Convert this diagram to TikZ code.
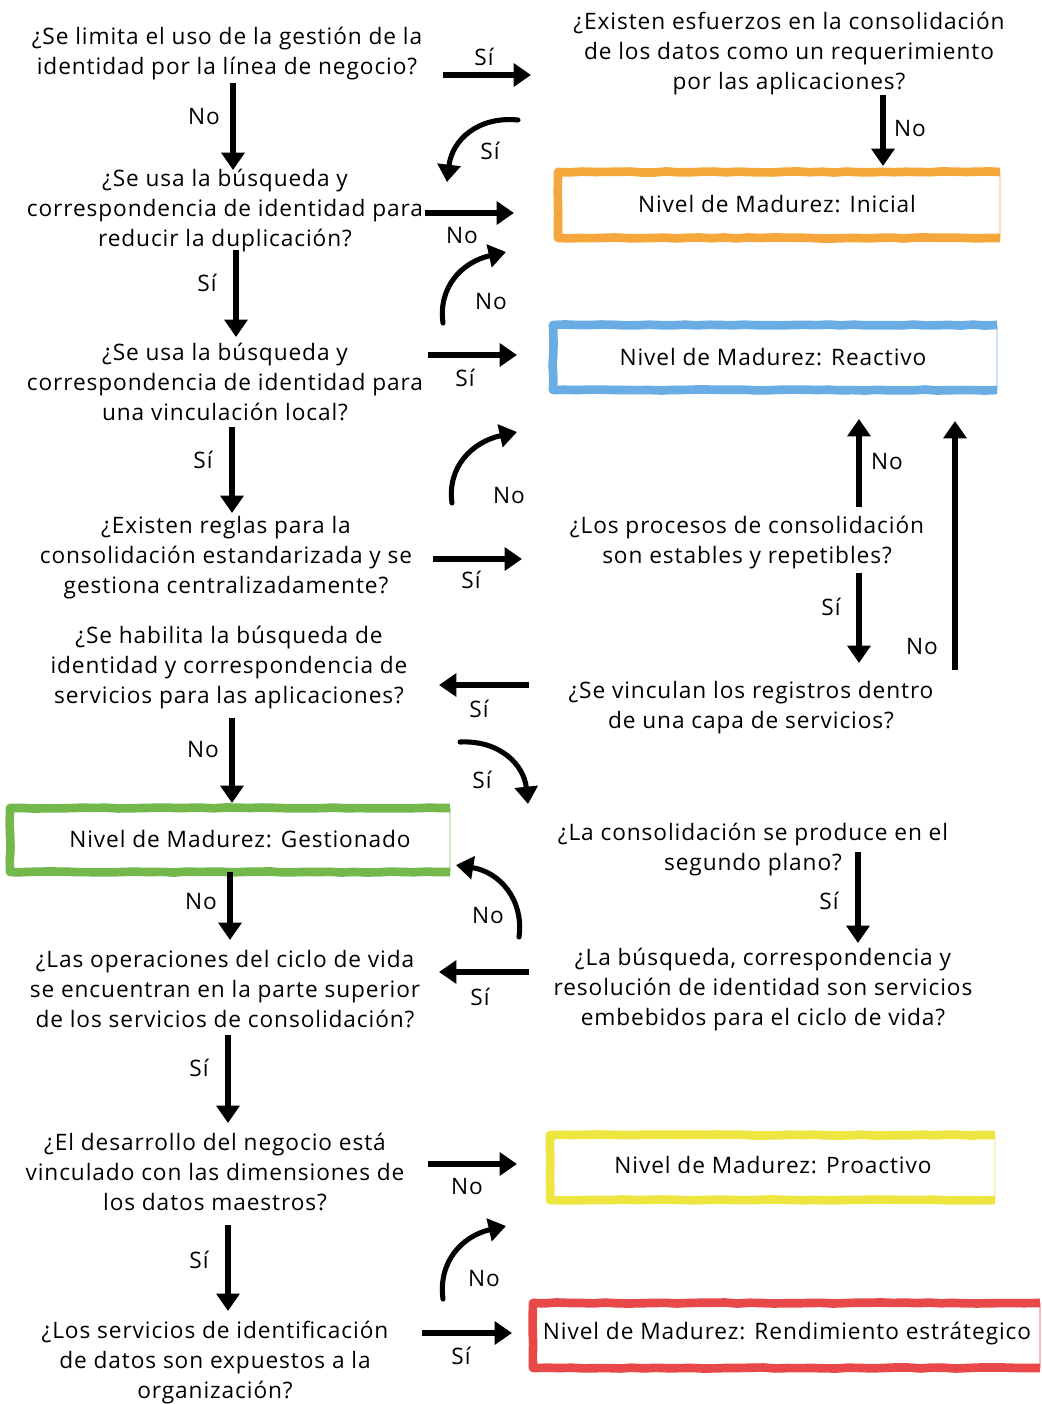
\documentclass[tikz,border=0pt]{standalone}
\usepackage{fontspec}
\setmainfont[LetterSpace=4]{Open Sans}
\usetikzlibrary{arrows.meta,decorations.pathmorphing}
\definecolor{cOrange}{HTML}{F5A73B}
\definecolor{cBlue}{HTML}{6AADE4}
\definecolor{cGreen}{HTML}{72B84C}
\definecolor{cYellow}{HTML}{EDE540}
\definecolor{cRed}{HTML}{E84848}
\begin{document}
\begin{tikzpicture}[x=0.75pt,y=-0.75pt,
  q/.style={align=center, font=\fontsize{17}{22.5}\selectfont, inner sep=0pt, yshift=-1.8pt},
  lbl/.style={font=\fontsize{17}{18}\selectfont, inner sep=0pt},
  boxtext/.style={font=\fontsize{17}{18}\selectfont, inner sep=0pt},
  arr/.style={line width=3.8pt, -{Triangle[length=13pt,width=17pt]}},
  brush/.style={line width=6.5pt, line join=round, decorate, decoration={random steps, segment length=9pt, amplitude=0.4pt}},
  faint/.style={line width=1pt, opacity=0.35}
]
\useasboundingbox (0,0) rectangle (1042,1404);

% ---------- left column questions ----------
\node[q] (q1) at (227,51) {¿Se limita el uso de la gestión de la\\identidad por la línea de negocio?};
\node[q] (q2) at (225,208) {¿Se usa la búsqueda y\\correspondencia de identidad para\\reducir la duplicación?};
\node[q] (q3) at (225,380) {¿Se usa la búsqueda y\\correspondencia de identidad para\\una vinculación local?};
\node[q] (q4) at (226,555) {¿Existen reglas para la\\consolidación estandarizada y se\\gestiona centralizadamente?};
\node[q] (q5) at (229,665) {¿Se habilita la búsqueda de\\identidad y correspondencia de\\servicios para las aplicaciones?};
\node[q] (q6) at (225,987) {¿Las operaciones del ciclo de vida\\se encuentran en la parte superior\\de los servicios de consolidación?};
\node[q] (q7) at (215,1170) {¿El desarrollo del negocio está\\vinculado con las dimensiones de\\los datos maestros?};
\node[q] (q8) at (215,1360) {¿Los servicios de identificación\\de datos son expuestos a la\\organización?};

% ---------- right column questions ----------
\node[q] (r1) at (789,51) {¿Existen esfuerzos en la consolidación\\de los datos como un requerimiento\\por las aplicaciones?};
\node[q] (r2) at (747,540) {¿Los procesos de consolidación\\son estables y repetibles?};
\node[q] (r3) at (751,705) {¿Se vinculan los registros dentro\\de una capa de servicios?};
\node[q] (r4) at (753,847) {¿La consolidación se produce en el\\segundo plano?};
\node[q] (r5) at (763,987) {¿La búsqueda, correspondencia y\\resolución de identidad son servicios\\embebidos para el ciclo de vida?};

% ---------- maturity level boxes ----------
\path (558,172) coordinate (iniNW) (1000,238) coordinate (iniSE);
\node[boxtext] (inicial) at (777,204) {Nivel de Madurez: Inicial};
\draw[brush, cOrange] (iniSE) -- (iniSE -| iniNW) -- (iniNW) -- (iniNW -| iniSE);
\draw[faint, cOrange] (iniNW -| iniSE) -- (iniSE);

\path (553,325) coordinate (reaNW) (997,390) coordinate (reaSE);
\node[boxtext] (reactivo) at (773,357) {Nivel de Madurez: Reactivo};
\draw[brush, cBlue] (reaSE) -- (reaSE -| reaNW) -- (reaNW) -- (reaNW -| reaSE);
\draw[faint, cBlue] (reaNW -| reaSE) -- (reaSE);

\path (10,808) coordinate (gesNW) (450,872) coordinate (gesSE);
\node[boxtext] (gestionado) at (240,839) {Nivel de Madurez: Gestionado};
\draw[brush, cGreen] (gesSE) -- (gesSE -| gesNW) -- (gesNW) -- (gesNW -| gesSE);
\draw[faint, cGreen] (gesNW -| gesSE) -- (gesSE);

\path (550,1135) coordinate (proNW) (995,1200) coordinate (proSE);
\node[boxtext] (proactivo) at (773,1165) {Nivel de Madurez: Proactivo};
\draw[brush, cYellow] (proSE) -- (proSE -| proNW) -- (proNW) -- (proNW -| proSE);
\draw[faint, cYellow] (proNW -| proSE) -- (proSE);

\path (533,1303) coordinate (renNW) (1040,1368) coordinate (renSE);
\node[boxtext] (rendimiento) at (787,1334) {Nivel de Madurez: Rendimiento estrátegico};
\draw[brush, cRed] (renSE) -- (renSE -| renNW) -- (renNW) -- (renNW -| renSE);
\draw[faint, cRed] (renNW -| renSE) -- (renSE);

% ---------- connector end points ----------
\path
 (443,75) coordinate (a1s) (531,75) coordinate (a1e)
 (233,83) coordinate (d1s) (233,170) coordinate (d1e)
 (883,95) coordinate (d2s) (883,166) coordinate (d2e)
 (236,250) coordinate (d3s) (236,337) coordinate (d3e)
 (232,427) coordinate (d4s) (232,513) coordinate (d4e)
 (232,718) coordinate (d5s) (232,803) coordinate (d5e)
 (230,872) coordinate (d6s) (230,940) coordinate (d6e)
 (228,1035) coordinate (d7s) (228,1123) coordinate (d7e)
 (228,1225) coordinate (d8s) (228,1311) coordinate (d8e)
 (859,507) coordinate (u1s) (859,419) coordinate (u1e)
 (859,573) coordinate (d9s) (859,663) coordinate (d9e)
 (955,670) coordinate (u2s) (955,421) coordinate (u2e)
 (858,852) coordinate (d10s) (858,943) coordinate (d10e)
 (425,213) coordinate (a3s) (514,213) coordinate (a3e)
 (428,355) coordinate (a5s) (517,355) coordinate (a5e)
 (433,559) coordinate (a7s) (522,559) coordinate (a7e)
 (529,685) coordinate (a8s) (439,685) coordinate (a8e)
 (529,972) coordinate (a11s) (439,972) coordinate (a11e)
 (428,1164) coordinate (a12s) (517,1164) coordinate (a12e)
 (422,1333) coordinate (a14s) (512,1333) coordinate (a14e)
 (518,120) coordinate (c2s) (447,182) coordinate (c2e)
 (443,323) coordinate (c4s) (506,252) coordinate (c4e)
 (452,503) coordinate (c6s) (517,432) coordinate (c6e)
 (443,1299) coordinate (c13s) (506,1226) coordinate (c13e)
 (460,742) coordinate (c9s) (528,804) coordinate (c9e)
 (519,937) coordinate (c10s) (456,865) coordinate (c10e);

% ---------- straight connectors ----------
\draw[arr] (a1s) -- (a1e);
\draw[arr] (d1s) -- (d1e);
\draw[arr] (d2s) -- (d2e);
\draw[arr] (d3s) -- (d3e);
\draw[arr] (d4s) -- (d4e);
\draw[arr] (d5s) -- (d5e);
\draw[arr] (d6s) -- (d6e);
\draw[arr] (d7s) -- (d7e);
\draw[arr] (d8s) -- (d8e);
\draw[arr] (u1s) -- (u1e);
\draw[arr] (d9s) -- (d9e);
\draw[arr] (u2s) -- (u2e);
\draw[arr] (d10s) -- (d10e);
\draw[arr] (a3s) -- (a3e);
\draw[arr] (a5s) -- (a5e);
\draw[arr] (a7s) -- (a7e);
\draw[arr] (a8s) -- (a8e);
\draw[arr] (a11s) -- (a11e);
\draw[arr] (a12s) -- (a12e);
\draw[arr] (a14s) -- (a14e);

% ---------- curved connectors ----------
\draw[arr, line cap=round] (c2s) .. controls (478,116) and (452,140) .. (c2e);
\draw[arr, line cap=round] (c4s) .. controls (438,287) and (462,262) .. (c4e);
\draw[arr, line cap=round] (c6s) .. controls (447,467) and (472,442) .. (c6e);
\draw[arr, line cap=round] (c13s) .. controls (438,1262) and (462,1236) .. (c13e);
\draw[arr, line cap=round] (c9s) .. controls (500,740) and (524,765) .. (c9e);
\draw[arr, line cap=round] (c10s) .. controls (524,900) and (500,872) .. (c10e);

% ---------- labels ----------
\node[lbl] at (484,57) {Sí};
\node[lbl] at (204,117) {No};
\node[lbl] at (910,129) {No};
\node[lbl] at (490,151) {Sí};
\node[lbl] at (462,236) {No};
\node[lbl] at (207,283) {Sí};
\node[lbl] at (491,302) {No};
\node[lbl] at (465,378) {Sí};
\node[lbl] at (203,460) {Sí};
\node[lbl] at (887,462) {No};
\node[lbl] at (509,496) {No};
\node[lbl] at (471,580) {Sí};
\node[lbl] at (831,607) {Sí};
\node[lbl] at (922,647) {No};
\node[lbl] at (479,709) {Sí};
\node[lbl] at (203,750) {No};
\node[lbl] at (482,780) {Sí};
\node[lbl] at (201,902) {No};
\node[lbl] at (829,901) {Sí};
\node[lbl] at (488,916) {No};
\node[lbl] at (480,997) {Sí};
\node[lbl] at (199,1068) {Sí};
\node[lbl] at (467,1187) {No};
\node[lbl] at (199,1260) {Sí};
\node[lbl] at (484,1279) {No};
\node[lbl] at (461,1356) {Sí};
\end{tikzpicture}
\end{document}
